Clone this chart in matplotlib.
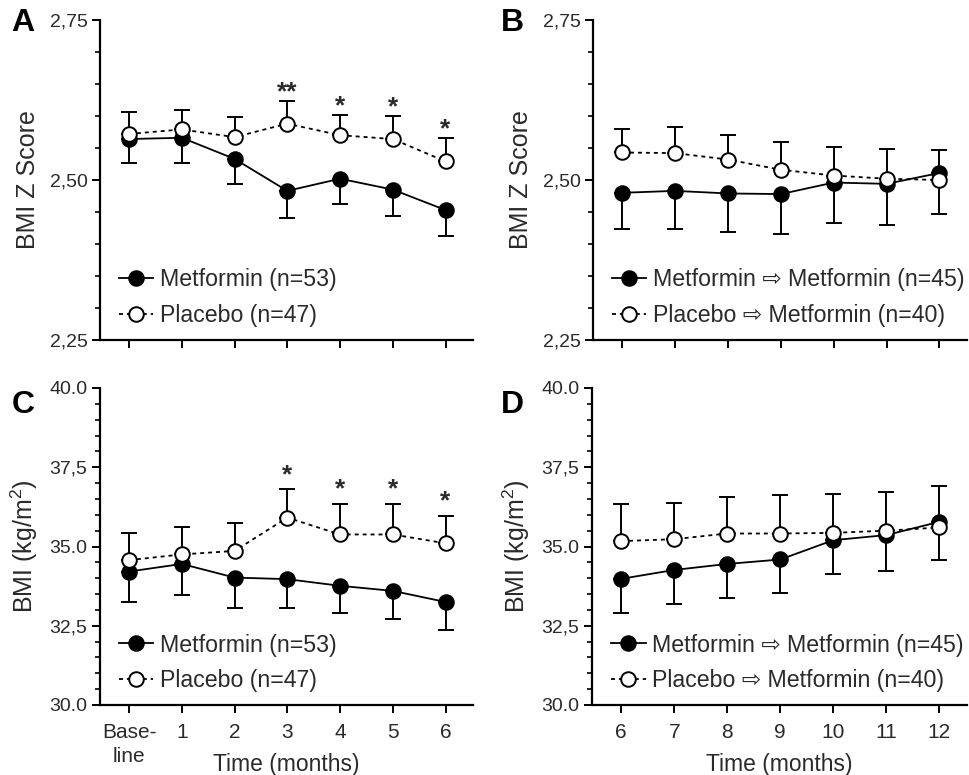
import matplotlib
matplotlib.use("Agg")
import matplotlib.pyplot as plt
from matplotlib.ticker import MultipleLocator

plt.rcParams['font.family'] = ['Liberation Sans', 'DejaVu Sans']
plt.rcParams['mathtext.fontset'] = 'custom'
plt.rcParams['mathtext.rm'] = 'Liberation Sans'
plt.rcParams['mathtext.it'] = 'Liberation Sans'

# ---------------- data ----------------
months_first = [0, 1, 2, 3, 4, 5, 6]
months_first_labels = ['Base-\nline', '1', '2', '3', '4', '5', '6']
months_second = [6, 7, 8, 9, 10, 11, 12]
months_second_labels = ['6', '7', '8', '9', '10', '11', '12']

# Panel A: BMI Z score, months 0-6
zA_met = [2.564, 2.566, 2.533, 2.483, 2.502, 2.485, 2.453]
zA_met_err = [0.037, 0.039, 0.039, 0.042, 0.040, 0.041, 0.041]
zA_pla = [2.572, 2.579, 2.567, 2.588, 2.570, 2.564, 2.529]
zA_pla_err = [0.034, 0.030, 0.032, 0.035, 0.032, 0.036, 0.037]
zA_stars = ['', '', '', '**', '*', '*', '*']

# Panel B: BMI Z score, months 6-12
zB_met = [2.480, 2.483, 2.479, 2.478, 2.496, 2.494, 2.511]
zB_met_err = [0.057, 0.059, 0.061, 0.063, 0.063, 0.065, 0.064]
zB_pla = [2.543, 2.542, 2.532, 2.516, 2.507, 2.502, 2.500]
zB_pla_err = [0.037, 0.041, 0.039, 0.044, 0.044, 0.046, 0.047]

# Panel C: BMI kg/m2, months 0-6
bC_met = [34.21, 34.45, 34.02, 33.97, 33.76, 33.60, 33.25]
bC_met_err = [0.96, 0.97, 0.97, 0.92, 0.86, 0.89, 0.88]
bC_pla = [34.57, 34.75, 34.86, 35.91, 35.38, 35.38, 35.10]
bC_pla_err = [0.87, 0.88, 0.88, 0.89, 0.95, 0.95, 0.87]
bC_stars = ['', '', '', '*', '*', '*', '*']

# Panel D: BMI kg/m2, months 6-12
bD_met = [33.98, 34.26, 34.45, 34.59, 35.20, 35.36, 35.78]
bD_met_err = [1.08, 1.07, 1.09, 1.06, 1.08, 1.13, 1.21]
bD_pla = [35.17, 35.23, 35.41, 35.41, 35.43, 35.50, 35.60]
bD_pla_err = [1.16, 1.15, 1.14, 1.20, 1.23, 1.23, 1.30]

z_ticks = [2.25, 2.50, 2.75]
z_ticklabels = ['2,25', '2,50', '2,75']
b_ticks = [30.0, 32.5, 35.0, 37.5, 40.0]
b_ticklabels = ['30.0', '32,5', '35.0', '37,5', '40.0']

labels_first = ['Metformin (n=53)', 'Placebo (n=47)']
labels_second = ['Metformin \u21e8 Metformin (n=45)', 'Placebo \u21e8 Metformin (n=40)']

# ---------------- figure ----------------
W, H = 970, 775
fig = plt.figure(figsize=(W / 100, H / 100), dpi=100)

def px_axes(l, t, r, b):
    return fig.add_axes([l / W, 1 - b / H, (r - l) / W, (b - t) / H])

axA = px_axes(100, 20, 473, 340)
axB = px_axes(593, 20, 967, 340)
axC = px_axes(100, 388, 473, 705)
axD = px_axes(592, 388, 967, 705)

TXT = '#2a2a2a'
LW = 1.3

def draw(ax, x, met, met_err, pla, pla_err):
    ax.errorbar(x, met, yerr=[met_err, [0] * len(met_err)], fmt='none',
                ecolor='black', elinewidth=1.4, capsize=5.5, capthick=1.4, zorder=2)
    ax.errorbar(x, pla, yerr=[[0] * len(pla_err), pla_err], fmt='none',
                ecolor='black', elinewidth=1.4, capsize=5.5, capthick=1.4, zorder=2)
    h1, = ax.plot(x, met, color='black', lw=LW, marker='o', markersize=10.5,
                  markerfacecolor='black', markeredgecolor='black', markeredgewidth=1.4,
                  zorder=3)
    h2, = ax.plot(x, pla, color='black', lw=LW, linestyle=(0, (2.2, 2.2)), marker='o',
                  markersize=10.5, markerfacecolor='white', markeredgecolor='black',
                  markeredgewidth=1.4, zorder=4)
    return h1, h2

def style(ax):
    for s in ['top', 'right']:
        ax.spines[s].set_visible(False)
    for s in ['left', 'bottom']:
        ax.spines[s].set_linewidth(1.6)
    ax.tick_params(axis='y', which='major', direction='out', length=6, width=1.4,
                   labelsize=14, labelcolor=TXT, pad=3)
    ax.tick_params(axis='x', which='major', direction='out', length=6, width=1.4,
                   labelsize=15, labelcolor=TXT, pad=7)
    ax.tick_params(axis='y', which='minor', direction='out', length=3.5, width=1.2)

panels = [
    (axA, months_first, zA_met, zA_met_err, zA_pla, zA_pla_err, labels_first, 'z'),
    (axB, months_second, zB_met, zB_met_err, zB_pla, zB_pla_err, labels_second, 'z'),
    (axC, months_first, bC_met, bC_met_err, bC_pla, bC_pla_err, labels_first, 'b'),
    (axD, months_second, bD_met, bD_met_err, bD_pla, bD_pla_err, labels_second, 'b'),
]

for ax, x, met, me, pla, pe, labs, kind in panels:
    h1, h2 = draw(ax, x, met, me, pla, pe)
    style(ax)
    ax.set_xlim(x[0] - 0.55, x[-1] + 0.52)
    ax.set_xticks(x)
    if kind == 'z':
        ax.set_ylim(2.25, 2.75)
        ax.set_yticks(z_ticks)
        ax.set_yticklabels(z_ticklabels)
        ax.yaxis.set_minor_locator(MultipleLocator(0.05))
        ax.set_xticklabels([])
        ax.set_ylabel('BMI Z Score', fontsize=18, color=TXT)
    else:
        ax.set_ylim(30.0, 40.0)
        ax.set_yticks(b_ticks)
        ax.set_yticklabels(b_ticklabels)
        ax.yaxis.set_minor_locator(MultipleLocator(0.5))
        ax.set_ylabel('BMI (kg/m$^2$)', fontsize=18, color=TXT)
        ax.set_xlabel('Time (months)', fontsize=16.5, color=TXT)
        ax.xaxis.set_label_coords(0.5, -0.15)
    ax.yaxis.set_label_coords(-0.16, 0.5)
    ax.legend([h1, h2], labs, loc='lower left', bbox_to_anchor=(0.05, 0.04),
              frameon=False, fontsize=16.7, handlelength=1.5, handletextpad=0.3,
              labelspacing=0.55, borderpad=0, borderaxespad=0, labelcolor=TXT)

axC.set_xticklabels(months_first_labels, linespacing=1.35)
axD.set_xticklabels(months_second_labels)

# significance stars
for ax, x, pla, pe, stars, off in [(axA, months_first, zA_pla, zA_pla_err, zA_stars, -0.005),
                                   (axC, months_first, bC_pla, bC_pla_err, bC_stars, 0.08)]:
    for xi, yi, ei, s in zip(x, pla, pe, stars):
        if s:
            ax.text(xi, yi + ei + off, s, ha='center', va='bottom', fontsize=19,
                    fontweight='bold', color=TXT)

# panel letters
for lab, px, py in [('A', 23, 23), ('B', 512, 23), ('C', 23, 405), ('D', 512, 405)]:
    fig.text(px / W, 1 - py / H, lab, ha='center', va='center', fontsize=23,
             fontweight='bold', color='black')

fig.savefig('out.png', dpi=100)
